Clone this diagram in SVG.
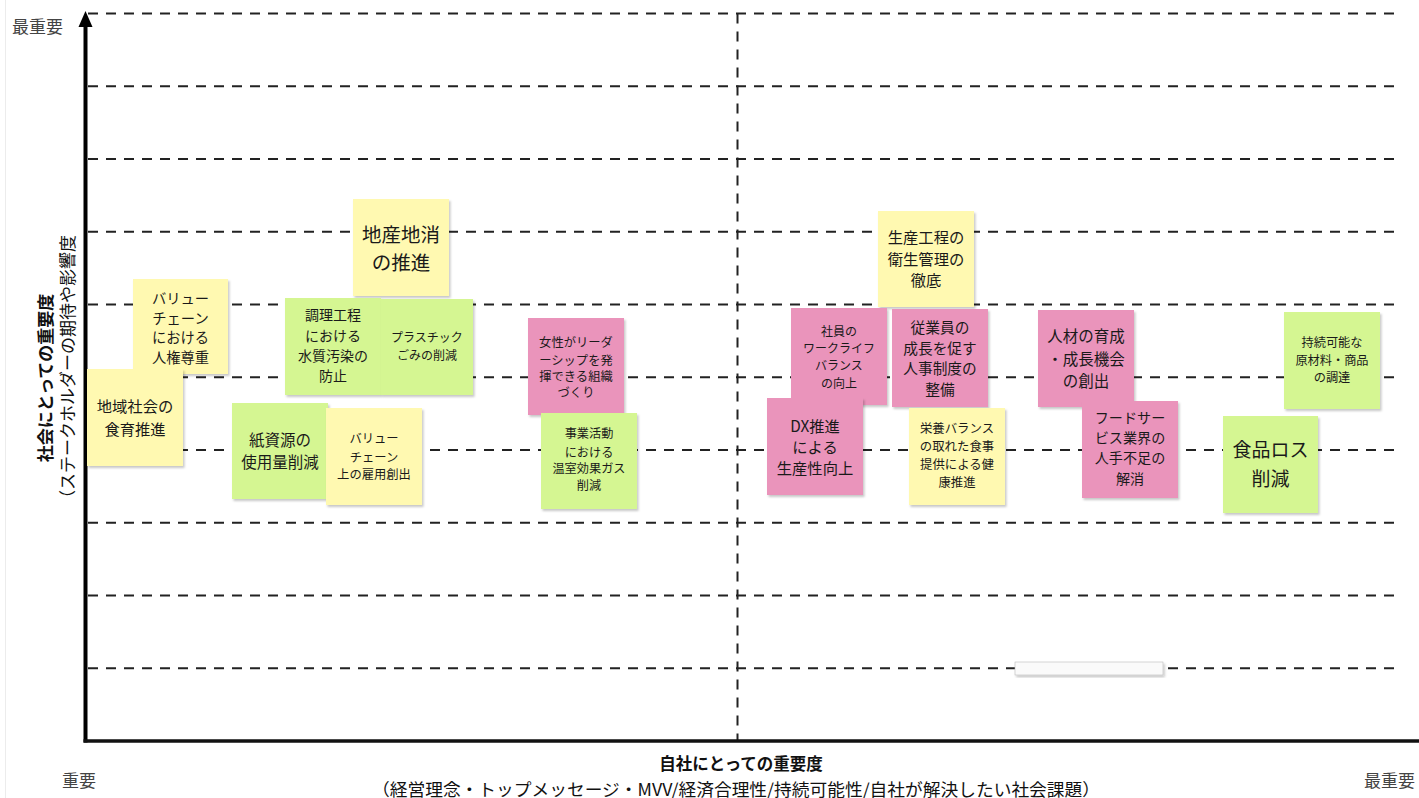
<svg xmlns="http://www.w3.org/2000/svg" width="1419" height="798" viewBox="0 0 1419 798">
<defs>
<style>
.t{font-family:"Noto Sans CJK JP","Noto Sans",sans-serif;fill:#1a1a1a;text-anchor:middle;dominant-baseline:central}
.lbl{font-family:"Noto Sans CJK JP","Noto Sans",sans-serif;fill:#444;font-size:17px;dominant-baseline:central}
.ax{font-family:"Noto Sans CJK JP","Noto Sans",sans-serif;fill:#111;text-anchor:middle;dominant-baseline:central}
.grid{stroke:#222;stroke-width:2;stroke-dasharray:10 8;fill:none}
.y{fill:#FFF9B1}
.g{fill:#D5F692}
.p{fill:#EA94BB}
</style>
<filter id="sh" x="-10%" y="-10%" width="130%" height="130%">
<feDropShadow dx="1.5" dy="2" stdDeviation="1.2" flood-color="#000" flood-opacity="0.22"/>
</filter>
</defs>
<rect width="1419" height="798" fill="#fff"/>
<line x1="5.5" y1="0" x2="5.5" y2="798" stroke="#ececec" stroke-width="1"/>

<g id="grid">
<path class="grid" d="M88 13.5H1398M88 86.25H1398M88 159H1398M88 231.75H1398M88 304.5H1398M88 377.25H1398M88 450H1398M88 522.75H1398M88 595.5H1398M88 668.25H1398"/>
<path class="grid" d="M737.5 13.5V740"/>
</g>

<g id="connectors">
<line x1="85.5" y1="24" x2="85.5" y2="742.5" stroke="#000" stroke-width="4"/>
<polygon points="85.5,11 78.5,27 92.5,27" fill="#000"/>
<line x1="83.5" y1="741" x2="1419" y2="741" stroke="#111" stroke-width="3.6"/>
</g>

<g id="axis-labels">
<text class="lbl" x="12" y="25">最重要</text>
<text class="lbl" x="62" y="779">重要</text>
<text class="lbl" x="1364" y="779">最重要</text>
<text class="ax" x="741" y="763" font-size="16.5" font-weight="bold">自社にとっての重要度</text>
<text class="ax" x="736" y="788" font-size="17" textLength="728" lengthAdjust="spacingAndGlyphs">（経営理念・トップメッセージ・MVV/経済合理性/持続可能性/自社が解決したい社会課題）</text>
<text class="ax" transform="translate(44 378) rotate(-90)" font-size="17" font-weight="bold">社会にとっての重要度</text>
<text class="ax" transform="translate(66 371) rotate(-90)" font-size="17">（ステークホルダーの期待や影響度</text>
</g>

<g id="blank-box"><rect x="1015" y="662" width="148" height="13" fill="#fafafa" stroke="#bbb" stroke-width="0.6" filter="url(#sh)"/></g>

<g id="n-chisan"><rect class="y" x="353" y="199" width="96" height="97" filter="url(#sh)"/>
<text class="t" x="401" font-size="19.5"><tspan x="401" y="233">地産地消</tspan><tspan x="401" y="261">の推進</tspan></text></g>

<g id="n-jinken"><rect class="y" x="133" y="279" width="95" height="95" filter="url(#sh)"/>
<text class="t" font-size="14.3"><tspan x="180.5" y="297">バリュー</tspan><tspan x="180.5" y="316.5">チェーン</tspan><tspan x="180.5" y="336">における</tspan><tspan x="180.5" y="356">人権尊重</tspan></text></g>

<g id="n-suishitsu"><rect class="g" x="285" y="298" width="96" height="97" filter="url(#sh)"/>
<text class="t" font-size="14"><tspan x="333" y="314">調理工程</tspan><tspan x="333" y="335">における</tspan><tspan x="333" y="355">水質汚染の</tspan><tspan x="333" y="375">防止</tspan></text></g>

<g id="n-plastic"><rect class="g" x="381" y="299" width="92" height="96" filter="url(#sh)"/>
<text class="t" font-size="12"><tspan x="427" y="336">プラスチック</tspan><tspan x="427" y="354">ごみの削減</tspan></text></g>

<g id="n-shokuiku"><rect class="y" x="87" y="369" width="96" height="97" filter="url(#sh)"/>
<text class="t" font-size="15.3"><tspan x="135" y="405">地域社会の</tspan><tspan x="135" y="428">食育推進</tspan></text></g>

<g id="n-kami"><rect class="g" x="232" y="403" width="96" height="96" filter="url(#sh)"/>
<text class="t" font-size="15.5"><tspan x="280" y="439">紙資源の</tspan><tspan x="280" y="461">使用量削減</tspan></text></g>

<g id="n-koyou"><rect class="y" x="326" y="408" width="96" height="97" filter="url(#sh)"/>
<text class="t" font-size="12.3"><tspan x="374" y="438">バリュー</tspan><tspan x="374" y="456.5">チェーン</tspan><tspan x="374" y="474">上の雇用創出</tspan></text></g>

<g id="n-josei"><rect class="p" x="528" y="318" width="96" height="97" filter="url(#sh)"/>
<text class="t" font-size="12.3"><tspan x="576" y="342">女性がリーダ</tspan><tspan x="576" y="359.5">ーシップを発</tspan><tspan x="576" y="376">揮できる組織</tspan><tspan x="576" y="391.5">づくり</tspan></text></g>

<g id="n-ghg"><rect class="g" x="541" y="413" width="96" height="96" filter="url(#sh)"/>
<text class="t" font-size="12.2"><tspan x="589" y="433">事業活動</tspan><tspan x="589" y="451.5">における</tspan><tspan x="589" y="468">温室効果ガス</tspan><tspan x="589" y="485">削減</tspan></text></g>

<g id="n-eisei"><rect class="y" x="878" y="211" width="96" height="96" filter="url(#sh)"/>
<text class="t" font-size="15.3"><tspan x="926" y="236">生産工程の</tspan><tspan x="926" y="257.5">衛生管理の</tspan><tspan x="926" y="279">徹底</tspan></text></g>

<g id="n-wlb"><rect class="p" x="791" y="308" width="96" height="97" filter="url(#sh)"/>
<text class="t" font-size="12"><tspan x="839" y="330">社員の</tspan><tspan x="839" y="347">ワークライフ</tspan><tspan x="839" y="364">バランス</tspan><tspan x="839" y="381.5">の向上</tspan></text></g>

<g id="n-jinji"><rect class="p" x="892" y="309" width="96" height="98" filter="url(#sh)"/>
<text class="t" font-size="14.7"><tspan x="940" y="326">従業員の</tspan><tspan x="940" y="346.5">成長を促す</tspan><tspan x="940" y="367">人事制度の</tspan><tspan x="940" y="388">整備</tspan></text></g>

<g id="n-dx"><rect class="p" x="767" y="398" width="96" height="97" filter="url(#sh)"/>
<text class="t" font-size="15.3"><tspan x="815" y="425">DX推進</tspan><tspan x="815" y="446">による</tspan><tspan x="815" y="467">生産性向上</tspan></text></g>

<g id="n-eiyou"><rect class="y" x="909" y="408" width="96" height="97" filter="url(#sh)"/>
<text class="t" font-size="12.4"><tspan x="957" y="428">栄養バランス</tspan><tspan x="957" y="446">の取れた食事</tspan><tspan x="957" y="463.5">提供による健</tspan><tspan x="957" y="482">康推進</tspan></text></g>

<g id="n-jinzai"><rect class="p" x="1038" y="310" width="96" height="97" filter="url(#sh)"/>
<text class="t" font-size="15.5"><tspan x="1086" y="335">人材の育成</tspan><tspan x="1086" y="358">・成長機会</tspan><tspan x="1086" y="380">の創出</tspan></text></g>

<g id="n-food"><rect class="p" x="1082" y="401" width="96" height="97" filter="url(#sh)"/>
<text class="t" font-size="14.1"><tspan x="1130" y="417">フードサー</tspan><tspan x="1130" y="437">ビス業界の</tspan><tspan x="1130" y="457">人手不足の</tspan><tspan x="1130" y="478">解消</tspan></text></g>

<g id="n-chotatsu"><rect class="g" x="1284" y="312" width="96" height="97" filter="url(#sh)"/>
<text class="t" font-size="12.2"><tspan x="1332" y="342">持続可能な</tspan><tspan x="1332" y="359.5">原材料・商品</tspan><tspan x="1332" y="377">の調達</tspan></text></g>

<g id="n-foodloss"><rect class="g" x="1223" y="416" width="95" height="97" filter="url(#sh)"/>
<text class="t" font-size="19"><tspan x="1270.5" y="448">食品ロス</tspan><tspan x="1270.5" y="477">削減</tspan></text></g>
</svg>
